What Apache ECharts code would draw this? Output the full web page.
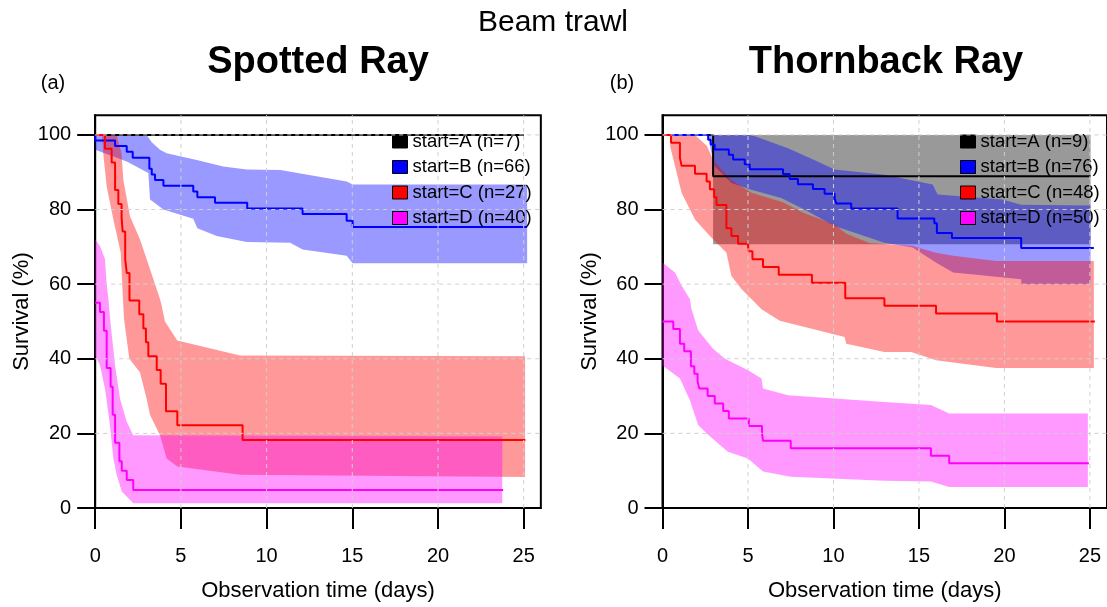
<!DOCTYPE html>
<html><head><meta charset="utf-8">
<script src="https://cdn.jsdelivr.net/npm/echarts@6/dist/echarts.min.js"></script>
<style>html,body{margin:0;padding:0;background:#fff}#c{width:1107px;height:607px}</style>
</head><body><div id="c"></div>
<script>
// ---------- axes / labels ----------
const xTicks = [0, 5, 10, 15, 20, 25];
const yTicks = [0, 20, 40, 60, 80, 100];
const xGridLines = [5, 10, 15, 20, 25];
const yGridLines = [20, 40, 60, 80, 100];
const xMax = 26, yMax = 105.3;
const mainTitle = 'Beam trawl';
const panelTitles = ['Spotted Ray', 'Thornback Ray'];
const panelTags = ['(a)', '(b)'];
const xName = 'Observation time (days)';
const yName = 'Survival (%)';
const spottedNames = ['start=A (n=7)', 'start=B (n=66)', 'start=C (n=27)', 'start=D (n=40)'];
const thornNames = ['start=A (n=9)', 'start=B (n=76)', 'start=C (n=48)', 'start=D (n=50)'];

// ---------- Spotted Ray: KM steps [time, survival %] ----------
const spottedA = [[0,100],[25.0,100]];
const spottedB = [[0,100],[0,98.5],[1.16,97.0],[1.84,95.5],[2.19,93.9],[3.16,90.9],[3.3,89.4],[3.49,87.9],[3.98,86.4],[5.72,84.8],[5.96,83.3],[6.99,81.8],[8.87,80.3],[12.1,78.8],[14.67,77.0],[15.02,75.3],[25.2,75.3]];
const spottedC = [[0,100],[0.57,96.3],[0.96,92.6],[1.16,85.2],[1.35,81.5],[1.54,77.8],[1.6,74.1],[1.75,66.7],[1.84,63.0],[2.0,55.6],[2.57,51.9],[2.81,48.1],[2.96,44.4],[3.1,40.7],[3.59,37.0],[3.82,33.3],[4.13,25.9],[4.79,22.2],[8.6,18.2],[25.1,18.2]];
const spottedD = [[0,55],[0.28,52.5],[0.51,47.5],[0.67,37.5],[0.9,32.5],[1.02,25],[1.16,17.5],[1.41,12.5],[1.55,10],[1.84,7.5],[2.22,4.8],[23.8,4.8]];
// confidence bands
const spottedBUpper = [[0,100],[3.0,100],[3.3,98],[3.78,96],[4.17,95.1],[5.92,93.3],[7.47,91.5],[8.84,90.7],[10.8,90.6],[14.67,87.5],[15.02,86.7],[25.2,86.7]];
const spottedBLower = [[0,96],[1.06,94.2],[1.84,92.9],[3.1,89.8],[3.2,82.7],[3.98,80],[5.72,77.5],[5.96,75],[7.09,72.9],[8.84,71.3],[11.37,71.1],[12.1,69.3],[14.67,67.6],[15.02,65.6],[25.2,65.6]];
const spottedCUpper = [[0.4,100],[1.25,100],[1.54,95.1],[1.64,88],[2.03,78.2],[2.61,72],[3.2,64],[3.78,56],[3.88,54.2],[4.07,50],[4.79,44.9],[8.45,40.9],[25.08,40.7]];
const spottedCLower = [[0.4,100],[0.47,95],[0.67,86.2],[1.06,77.3],[1.49,68.4],[1.58,59.6],[1.68,50.7],[1.99,40],[2.61,36.4],[3.0,29.3],[3.2,24.9],[3.78,19.5],[4.17,13.3],[4.79,11.1],[8.45,8.9],[25.08,8.3]];
const spottedDUpper = [[0,72],[0.28,70.2],[0.57,66.7],[0.67,60],[0.77,56],[0.9,49.3],[1.16,38.2],[1.45,29.3],[1.84,23.1],[2.22,19.5],[23.75,19.2]];
const spottedDLower = [[0,40.9],[0.28,38.2],[0.57,32],[0.86,22.2],[1.06,13.3],[1.25,8.9],[1.55,4.4],[2.22,1.3],[23.75,1.3]];

// ---------- Thornback Ray ----------
const thornA = [[0,100],[2.96,88.9],[25.04,88.9]];
const thornB = [[0,100],[2.67,98.7],[2.82,97.4],[3.05,96.1],[3.88,94.7],[4.13,93.4],[4.81,92.1],[5.1,90.8],[7.05,89.5],[7.44,88.2],[7.92,86.8],[8.8,85.5],[9.48,84.2],[10.07,82.9],[10.17,81.6],[11.04,80.3],[13.75,77.6],[15.9,76.3],[16.05,73.7],[16.93,72.4],[20.98,69.7],[25.23,69.7]];
const thornC = [[0,100],[0.5,97.9],[1.02,93.8],[1.12,91.7],[1.9,89.6],[2.58,87.5],[2.77,85.4],[3.02,83.3],[3.16,81.2],[3.74,75],[4.03,72.9],[4.42,70.8],[5.01,68.8],[5.26,66.7],[5.88,64.6],[6.8,62.5],[8.74,60.4],[10.69,56.2],[12.98,54.2],[16.0,52.1],[19.56,50],[25.29,50]];
const thornD = [[0,50],[0.63,48],[1.02,44],[1.27,42],[1.66,38],[1.86,36],[2.05,34],[2.15,32],[2.64,30],[3.06,28],[3.55,26],[3.88,24],[5.05,22],[5.82,20],[5.88,18],[7.5,16],[15.7,14],[16.77,12],[24.94,12]];
const thornAUpper = [[2.96,100],[25.04,100]];
const thornALower = [[2.96,70.7],[25.04,70.7]];
const thornBUpper = [[2.67,100],[5.2,100],[7.34,96.4],[9.0,93],[10.07,90.7],[12.98,89.3],[15.8,86.7],[16.09,84],[19.88,82.7],[20.98,81.3],[25.04,81.1]];
const thornBLower = [[2.67,100],[2.82,96],[3.05,91.6],[4.03,87.1],[5.2,85.3],[6.95,83.1],[8.3,80],[10.07,75.6],[12.98,71.1],[14.63,69.8],[15.99,65.8],[17.0,63.1],[20.98,61.3],[21.0,60],[25.04,60]];
const thornCUpper = [[0.45,100],[1.9,100],[2.6,97],[3.0,93],[4.0,88],[5.2,84.5],[7,82],[8.3,79],[10.07,76],[10.75,73.5],[12.1,71],[14.63,70.2],[15.99,68.4],[17.0,67.6],[19.5,66.2],[25.23,66.2]];
const thornCLower = [[0.45,96.9],[1.12,84.4],[1.9,77.3],[2.77,72.9],[3.74,68.4],[4.03,62.2],[4.62,58.7],[5.2,56],[5.79,53.3],[6.86,50.2],[10.65,45.8],[10.75,44],[12.98,41.8],[14.54,41.8],[16.0,39.6],[19.5,37.5],[25.23,37.5]];
const thornDUpper = [[0,65.8],[0.73,63.1],[1.12,59.6],[1.6,56],[1.7,53.3],[2.09,47.6],[2.96,42.7],[3.65,40],[5.01,36.9],[5.79,34.7],[5.88,32],[7.34,30.2],[12.98,28.4],[15.7,27.6],[16.77,25.3],[24.88,25.3]];
const thornDLower = [[0,38.2],[1.02,34.7],[1.6,28.9],[2.09,22.2],[2.67,19.6],[3.82,15.1],[5.0,13.3],[5.88,9.8],[7.5,8.4],[12.98,7.3],[15.7,7.1],[16.77,5.6],[24.88,5.6]];

// ---------- styling ----------
const FONT = "'Liberation Sans', Arial, sans-serif";
const lineColors = ['#000000', '#0000ff', '#ff0000', '#ff00ff'];
const bandColors = ['rgba(0,0,0,0.4)', 'rgba(0,0,255,0.4)', 'rgba(255,0,0,0.4)', 'rgba(255,0,255,0.4)'];

function bandSeries(g, upper, lower, color) {
  return {
    type: 'custom', xAxisIndex: g, yAxisIndex: g, silent: true, z: 2,
    data: [upper[0]],
    renderItem: function (params, api) {
      const pts = upper.map(p => api.coord(p)).concat(lower.slice().reverse().map(p => api.coord(p)));
      return { type: 'polygon', shape: { points: pts }, style: { fill: color } };
    }
  };
}
function stepSeries(g, name, data, color) {
  return {
    type: 'line', name: name, xAxisIndex: g, yAxisIndex: g, data: data, step: 'end',
    symbol: 'none', z: 3, color: color, lineStyle: { color: color, width: 2 }, silent: true
  };
}
function gridSeries(g) {
  return {
    type: 'custom', xAxisIndex: g, yAxisIndex: g, silent: true, z: 4,
    data: [[0, 0]],
    renderItem: function (params, api) {
      const children = [];
      const st = { stroke: '#cfcfcf', lineWidth: 1, lineDash: [4, 4] };
      xGridLines.forEach(v => {
        const a = api.coord([v, 0]), b = api.coord([v, yMax]);
        children.push({ type: 'line', shape: { x1: a[0], y1: a[1], x2: b[0], y2: b[1] }, style: st });
      });
      yGridLines.forEach(v => {
        const a = api.coord([0, v]), b = api.coord([xMax, v]);
        children.push({ type: 'line', shape: { x1: a[0], y1: a[1], x2: b[0], y2: b[1] }, style: st });
      });
      return { type: 'group', children: children };
    }
  };
}

const gridLefts = [95.2, 662.5];
const pxPerDay = 17.14, pxPerPct = 3.75;

const series = [];
// spotted bands (A has zero width)
series.push(bandSeries(0, spottedBUpper, spottedBLower, bandColors[1]));
series.push(bandSeries(0, spottedCUpper, spottedCLower, bandColors[2]));
series.push(bandSeries(0, spottedDUpper, spottedDLower, bandColors[3]));
[spottedA, spottedB, spottedC, spottedD].forEach((d, i) => series.push(stepSeries(0, spottedNames[i], d, lineColors[i])));
series.push(gridSeries(0));
// thornback
series.push(bandSeries(1, thornAUpper, thornALower, bandColors[0]));
series.push(bandSeries(1, thornBUpper, thornBLower, bandColors[1]));
series.push(bandSeries(1, thornCUpper, thornCLower, bandColors[2]));
series.push(bandSeries(1, thornDUpper, thornDLower, bandColors[3]));
[thornA, thornB, thornC, thornD].forEach((d, i) => series.push(stepSeries(1, thornNames[i], d, lineColors[i])));
series.push(gridSeries(1));

const axisText = { color: '#000', fontFamily: FONT };
const option = {
  animation: false,
  backgroundColor: '#fff',
  grid: gridLefts.map(l => ({
    left: l, top: 510 - yMax * pxPerPct, width: xMax * pxPerDay, height: yMax * pxPerPct,
    show: true, borderColor: '#000', borderWidth: 2, backgroundColor: 'transparent'
  })),
  xAxis: [0, 1].map(i => ({
    type: 'value', gridIndex: i, min: 0, max: xMax, interval: 5,
    axisLine: { show: true, onZero: false, lineStyle: { color: '#000', width: 2 } },
    axisTick: { show: true, customValues: xTicks, length: 21, lineStyle: { color: '#000', width: 2 } },
    axisLabel: { customValues: xTicks, margin: 38, fontSize: 20, ...axisText },
    splitLine: { show: false },
    name: xName, nameLocation: 'middle', nameGap: 72,
    nameTextStyle: { fontSize: 22, ...axisText }
  })),
  yAxis: [0, 1].map(i => ({
    type: 'value', gridIndex: i, min: 0, max: yMax, interval: 20,
    axisLine: { show: true, onZero: false, lineStyle: { color: '#000', width: 2 } },
    axisTick: { show: true, customValues: yTicks, length: 18, lineStyle: { color: '#000', width: 2 } },
    axisLabel: { customValues: yTicks, margin: 24, fontSize: 20, ...axisText },
    splitLine: { show: false },
    name: yName, nameLocation: 'middle', nameGap: 62,
    nameTextStyle: { fontSize: 22, ...axisText }
  })),
  legend: [
    { names: spottedNames, left: 392 },
    { names: thornNames, left: 960 }
  ].map(l => ({
    data: l.names, left: l.left, top: 132, orient: 'vertical', padding: 0,
    icon: 'rect', itemWidth: 15, itemHeight: 13, itemGap: 6.5, selectedMode: false,
    itemStyle: { borderColor: '#000', borderWidth: 1 },
    textStyle: { fontSize: 18.5, lineHeight: 16, color: '#000', fontFamily: FONT }
  })),
  graphic: [
    { type: 'text', x: 553, y: 23, style: { text: mainTitle, font: '30px ' + FONT, fill: '#000', textAlign: 'center', textVerticalAlign: 'middle' } },
    { type: 'text', x: 318, y: 63, style: { text: panelTitles[0], font: 'bold 38px ' + FONT, fill: '#000', textAlign: 'center', textVerticalAlign: 'middle' } },
    { type: 'text', x: 886, y: 63, style: { text: panelTitles[1], font: 'bold 38px ' + FONT, fill: '#000', textAlign: 'center', textVerticalAlign: 'middle' } },
    { type: 'text', x: 53, y: 83, style: { text: panelTags[0], font: '20px ' + FONT, fill: '#000', textAlign: 'center', textVerticalAlign: 'middle' } },
    { type: 'text', x: 622, y: 83, style: { text: panelTags[1], font: '20px ' + FONT, fill: '#000', textAlign: 'center', textVerticalAlign: 'middle' } }
  ],
  series: series
};
echarts.init(document.getElementById('c')).setOption(option);
</script>
</body></html>
